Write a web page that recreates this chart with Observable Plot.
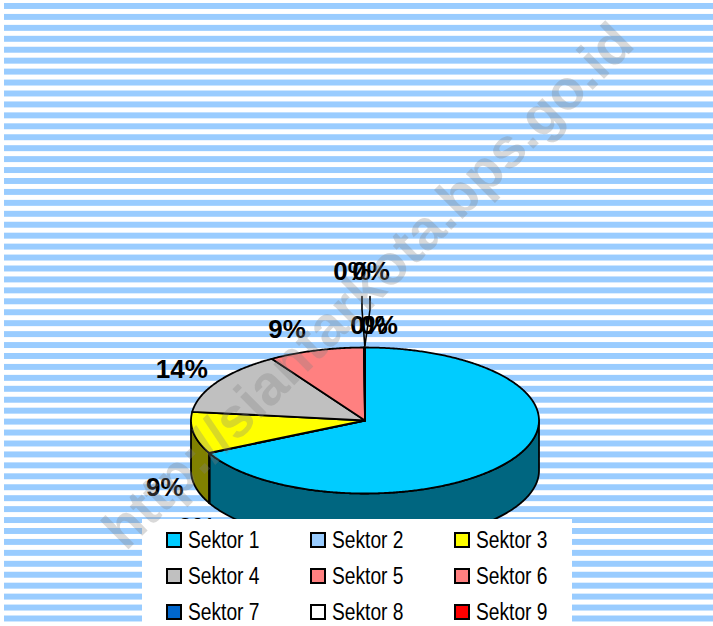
<!DOCTYPE html>
<html>
<head>
<meta charset="utf-8">
<script src="https://cdn.jsdelivr.net/npm/d3@7"></script>
<script src="https://cdn.jsdelivr.net/npm/@observablehq/plot@0.6"></script>
<style>
  html, body { margin: 0; padding: 0; background: #fff; }
  #wrap { position: relative; width: 713px; height: 626px; overflow: hidden; background: #fff; }
  #bg { position: absolute; left: 4px; top: 0; width: 709px; height: 626px;
        background-image: linear-gradient(#99CCFF 0px, #99CCFF 6px, transparent 6px);
        background-size: 100% 10.95px; background-position: 0 3px; }
  #chart, #wm { position: absolute; left: 0; top: 0; }
  #wm { pointer-events: none; }
  #legend { position: absolute; left: 142px; top: 519px; width: 430px; height: 107px; background: #fff;
            display: grid; grid-template-columns: repeat(3, 144px); grid-auto-rows: 36px;
            padding: 3px 0 0 24px; box-sizing: border-box; }
  .item { display: flex; align-items: center; height: 36px; }
  .sw { width: 12px; height: 12px; border: 2px solid #000; margin-right: 6px; flex: none; }
  .lt { font-family: "Liberation Sans", Arial, sans-serif; display: inline-block;
        font-size: 23px; color: #000; white-space: nowrap; transform: scaleX(0.835); transform-origin: 0 50%; }
</style>
</head>
<body>
<div id="wrap">
  <div id="bg"></div>
  <div id="chart"></div>
  <div id="legend"></div>
  <div id="wm"></div>
</div>
<script>
// ---- data ----
const sectors = ["Sektor 1","Sektor 2","Sektor 3","Sektor 4","Sektor 5","Sektor 6","Sektor 7","Sektor 8","Sektor 9"];
const values  = [67.6, 0.1, 9.2, 14.1, 8.9, 0.05, 0.02, 0.02, 0.01];
const colors  = ["#00CCFF","#99CCFF","#FFFF00","#C0C0C0","#FF8080","#FF8080","#0066CC","#FFFFFF","#FF0000"];
const watermark = "http://siantarkota.bps.go.id";

// ---- layout (style) ----
const W = 713, H = 626;
const cx = 364.5, cy = 420, rx = 174, ry = 73, depth = 50;
const depthU = depth / ry;

const total = d3.sum(values);
const pct = values.map(v => Math.round(v / total * 100) + "%");
const pie = d3.pie().sort(null).value(d => d)(values);

const sideColors = colors.map(c => {
  const k = d3.rgb(c); return d3.rgb(k.r * 0.5, k.g * 0.5, k.b * 0.5).formatHex();
});

function arc(a0, a1, off = 0) {
  const n = Math.max(2, Math.ceil((a1 - a0) / (Math.PI / 360)));
  const pts = [];
  for (let i = 0; i <= n; i++) {
    const t = a0 + (a1 - a0) * i / n;
    pts.push({u: Math.sin(t), v: -Math.cos(t) + off});
  }
  return pts;
}

const marks = [];
// side walls (front half only)
pie.forEach((p, i) => {
  const s = Math.max(p.startAngle, Math.PI / 2), e = Math.min(p.endAngle, 3 * Math.PI / 2);
  if (e > s + 1e-6) {
    const top = arc(s, e, 0), bot = arc(s, e, depthU).reverse();
    const poly = top.concat(bot, [top[0]]);
    marks.push(Plot.line(poly, {x: "u", y: "v", fill: sideColors[i], stroke: "#000", strokeWidth: 1.8, strokeLinejoin: "round"}));
  }
});
// top faces
pie.forEach((p, i) => {
  if (p.endAngle - p.startAngle < 1e-4) return;
  const poly = [{u: 0, v: 0}].concat(arc(p.startAngle, p.endAngle, 0), [{u: 0, v: 0}]);
  marks.push(Plot.line(poly, {x: "u", y: "v", fill: colors[i], stroke: "#000", strokeWidth: 1.8, strokeLinejoin: "round"}));
});

// labels
const left = [], right = [], mid = [], leaders = [];
let cluster = 0;
pie.forEach((p, i) => {
  const a = (p.startAngle + p.endAngle) / 2;
  const s = Math.sin(a), c = Math.cos(a);
  let px, py = cy - c * (ry + 22);
  if (c < 0) py += depth + 50 * Math.max(0, -c - 0.15);
  if (Math.abs(s) < 0.05) {
    // labels crowded at the top of the pie
    const j = cluster++;
    const offs = [[4, 0], [14, 0], [-13, -54], [6, -54]][j % 4];
    px = cx + offs[0]; py += offs[1];
    mid.push({u: (px - cx) / rx, v: (py - cy) / ry, t: pct[i]});
    if (offs[1] < 0) {
      const lx = cx + (j % 2 ? 5 : -3);
      const ex = cx + s * rx, ey = cy - c * ry;
      leaders.push([
        {u: (lx - cx) / rx, v: (py + 25 - cy) / ry},
        {u: (lx - cx) / rx, v: (py + 38 - cy) / ry},
        {u: (ex - cx) / rx, v: (ey - 2 - cy) / ry}
      ]);
    }
  } else if (c < -0.3) {
    // labels below the front wall
    px = cx + s * rx * 1.08;
    mid.push({u: (px - cx) / rx, v: (py - cy) / ry, t: pct[i]});
  } else if (s < 0) {
    px = cx + s * rx - 10;
    left.push({u: (px - cx) / rx, v: (py - cy) / ry, t: pct[i]});
  } else {
    px = cx + s * rx + 10;
    right.push({u: (px - cx) / rx, v: (py - cy) / ry, t: pct[i]});
  }
});
leaders.forEach(l => marks.push(Plot.line(l, {x: "u", y: "v", stroke: "#000", strokeWidth: 1.6})));
const tOpts = {x: "u", y: "v", text: "t", fontSize: 26, fontWeight: "bold", fill: "#000", lineAnchor: "middle"};
marks.push(Plot.text(left, {...tOpts, textAnchor: "end"}));
marks.push(Plot.text(right, {...tOpts, textAnchor: "start"}));
marks.push(Plot.text(mid, {...tOpts, textAnchor: "middle"}));

const chart = Plot.plot({
  width: W, height: H, margin: 0,
  x: {domain: [-1, 1], range: [cx - rx, cx + rx], axis: null},
  y: {domain: [-1, 1], range: [cy - ry, cy + ry], axis: null},
  style: {background: "none", fontFamily: "'Liberation Sans', Arial, sans-serif", overflow: "visible"},
  marks
});
document.getElementById("chart").appendChild(chart);

// legend
const lg = document.getElementById("legend");
sectors.forEach((s, i) => {
  const it = document.createElement("div"); it.className = "item";
  const sw = document.createElement("div"); sw.className = "sw"; sw.style.background = colors[i];
  const t = document.createElement("span"); t.className = "lt"; t.textContent = s;
  it.appendChild(sw); it.appendChild(t); lg.appendChild(it);
});

// watermark overlay
const wm = Plot.plot({
  width: W, height: H, margin: 0,
  x: {axis: null}, y: {axis: null},
  style: {background: "none", fontFamily: "'Liberation Sans', Arial, sans-serif"},
  marks: [
    Plot.text([watermark], {frameAnchor: "top-left", dx: 368, dy: 286, text: d => d, rotate: -44.7,
      fontSize: 56, fontWeight: "bold", fill: "#808080", fillOpacity: 0.3, textAnchor: "middle", lineAnchor: "middle"})
  ]
});
document.getElementById("wm").appendChild(wm);
</script>
</body>
</html>
